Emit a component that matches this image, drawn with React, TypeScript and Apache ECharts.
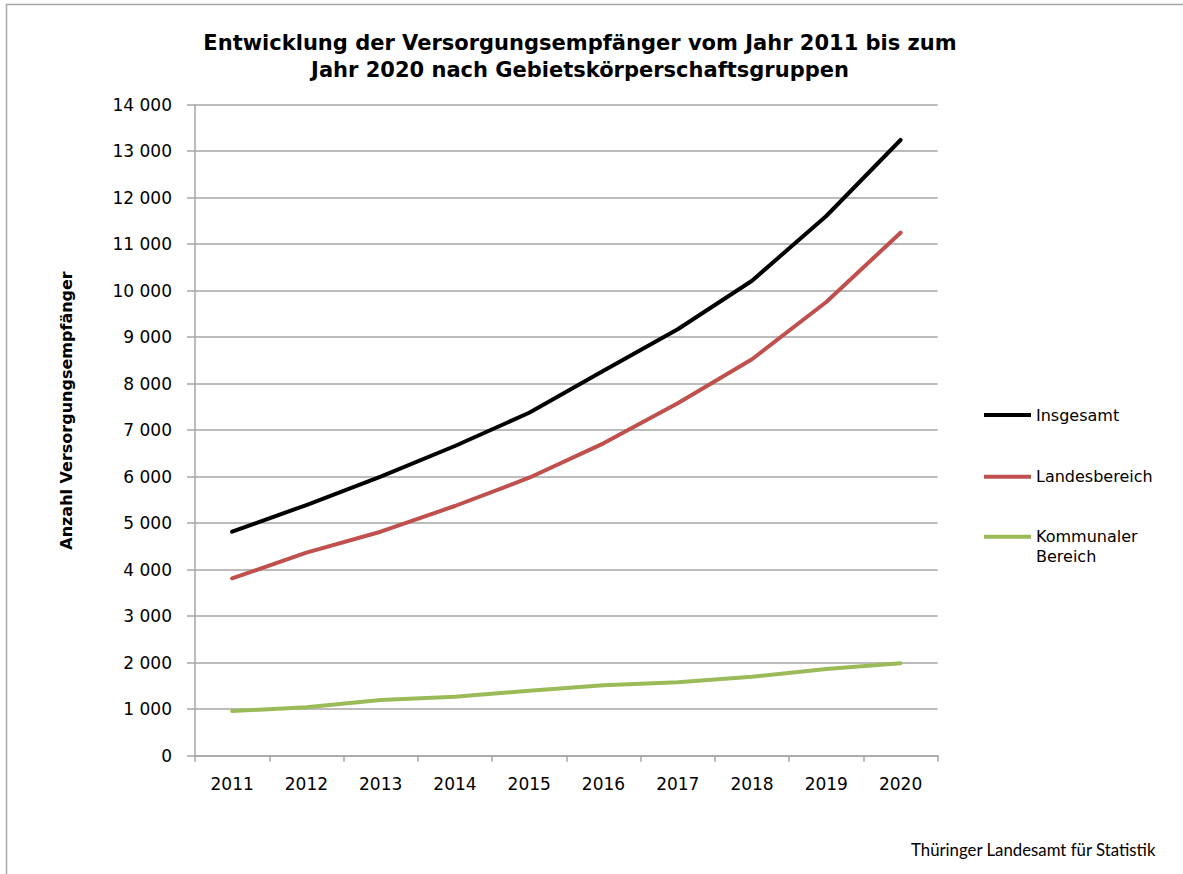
import React, { useEffect, useRef } from "react";
import * as echarts from "echarts";

const years = ["2011", "2012", "2013", "2014", "2015", "2016", "2017", "2018", "2019", "2020"];
const insgesamt = [4817, 5391, 6000, 6660, 7376, 8280, 9170, 10215, 11606, 13241];
const landesbereich = [3815, 4366, 4817, 5370, 5978, 6718, 7578, 8525, 9757, 11247];
const kommunal = [961, 1041, 1198, 1269, 1398, 1514, 1578, 1699, 1865, 1987];

const seriesNames = ["Insgesamt", "Landesbereich", "Kommunaler Bereich"];
const seriesColors = ["#000000", "#c0504d", "#9bbb59"];

const titleText = "Entwicklung der Versorgungsempfänger vom Jahr 2011 bis zum\nJahr 2020 nach Gebietskörperschaftsgruppen";
const yAxisName = "Anzahl Versorgungsempfänger";
const sourceText = "Thüringer Landesamt für Statistik";

const FONT = "'DejaVu Sans', 'Liberation Sans', Arial, sans-serif";

export default function App() {
  const ref = useRef<HTMLDivElement>(null);

  useEffect(() => {
    if (!ref.current) return;
    const chart = echarts.init(ref.current, undefined, { renderer: "svg" });
    const values = [insgesamt, landesbereich, kommunal];

    const legendBase = {
      orient: "vertical" as const,
      left: 984,
      icon: "rect",
      itemWidth: 47,
      itemHeight: 4,
      itemGap: 0,
      padding: 0,
      textStyle: { fontFamily: FONT, fontSize: 16, color: "#000", lineHeight: 20 },
    };

    chart.setOption({
      animation: false,
      backgroundColor: "#ffffff",
      title: [
        {
          text: titleText,
          left: 575,
          top: 24,
          textAlign: "center",
          textStyle: { fontFamily: FONT, fontSize: 21, fontWeight: "bold", color: "#000", lineHeight: 27 },
        },
        {
          text: sourceText,
          left: 906,
          top: 836,
          textStyle: { fontFamily: "Lato, 'Open Sans', sans-serif", fontSize: 16.8, fontWeight: "normal", color: "#000" },
        },
      ],
      legend: [
        { ...legendBase, top: 405, data: [seriesNames[0]] },
        { ...legendBase, top: 466.7, data: [seriesNames[1]] },
        {
          ...legendBase,
          top: 506.7,
          data: [seriesNames[2]],
          formatter: (n: string) => " \n" + n.replace(" ", "\n"),
        },
      ],
      grid: { left: 195, right: 245.3, top: 104.7, bottom: 118.3, containLabel: false },
      xAxis: {
        type: "category",
        data: years,
        boundaryGap: true,
        axisLine: { show: true, lineStyle: { color: "#a6a6a6", width: 1.5 } },
        axisTick: { show: true, length: 6, alignWithLabel: false, lineStyle: { color: "#a6a6a6", width: 1.5 } },
        axisLabel: { margin: 20, fontFamily: FONT, fontSize: 17, color: "#000" },
        splitLine: { show: false },
      },
      yAxis: {
        type: "value",
        min: 0,
        max: 14000,
        interval: 1000,
        axisLine: { show: true, lineStyle: { color: "#a6a6a6", width: 1.5 } },
        axisTick: { show: true, length: 8, lineStyle: { color: "#a6a6a6", width: 1.5 } },
        axisLabel: {
          margin: 23,
          fontFamily: FONT,
          fontSize: 17,
          color: "#000",
          formatter: (v: number) => String(v).replace(/\B(?=(\d{3})+(?!\d))/g, " "),
        },
        splitLine: { show: true, lineStyle: { color: "#a6a6a6", width: 1.5 } },
      },
      series: seriesNames.map((name, i) => ({
        name,
        type: "line",
        data: values[i],
        symbol: "none",
        color: seriesColors[i],
        lineStyle: { color: seriesColors[i], width: 4, cap: "round", join: "round" },
        itemStyle: { color: seriesColors[i] },
      })),
      graphic: [
        {
          type: "rect",
          silent: true,
          shape: { x: 6.5, y: 4.5, width: 1300, height: 1000 },
          style: { fill: "none", stroke: "#a6a6a6", lineWidth: 1.5 },
        },
        {
          type: "text",
          silent: true,
          x: 66,
          y: 410.5,
          rotation: Math.PI / 2,
          style: {
            text: yAxisName,
            fontFamily: FONT,
            fontSize: 16,
            fontWeight: "bold",
            fill: "#000",
            align: "center",
            verticalAlign: "middle",
          },
        },
      ],
    });

    return () => chart.dispose();
  }, []);

  return (
    <div
      ref={ref}
      style={{ position: "absolute", left: 0, top: 0, width: 1183, height: 874, background: "#fff" }}
    />
  );
}
